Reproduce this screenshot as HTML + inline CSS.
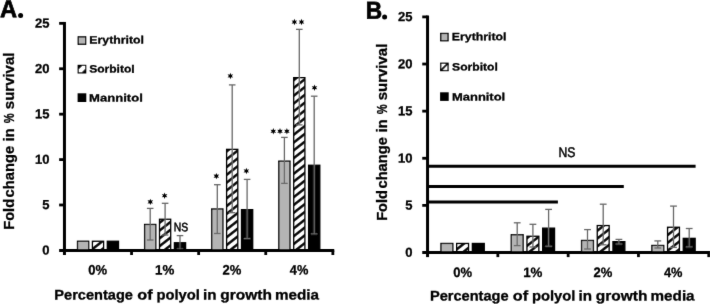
<!DOCTYPE html><html><head><meta charset="utf-8"><style>html,body{margin:0;padding:0;background:#fff;overflow:hidden}svg{display:block}</style></head><body><svg xmlns="http://www.w3.org/2000/svg" width="710" height="304" viewBox="0 0 710 304"><defs><filter id="soft" x="0" y="0" width="710" height="304" filterUnits="userSpaceOnUse"><feConvolveMatrix order="3" kernelMatrix="1 6 1 6 72 6 1 6 1" divisor="100" edgeMode="none"/></filter><pattern id="hA0" patternUnits="userSpaceOnUse" x="5.88" y="0" width="6.15" height="6.15" patternTransform="rotate(52)"><rect x="0.1" y="0" width="2.4" height="6.15" fill="#000"/></pattern><pattern id="hA1" patternUnits="userSpaceOnUse" x="1.85" y="0" width="6.15" height="6.15" patternTransform="rotate(52)"><rect x="0.1" y="0" width="2.4" height="6.15" fill="#000"/></pattern><pattern id="hA2" patternUnits="userSpaceOnUse" x="5.4" y="0" width="6.15" height="6.15" patternTransform="rotate(52)"><rect x="0.1" y="0" width="2.4" height="6.15" fill="#000"/></pattern><pattern id="hA3" patternUnits="userSpaceOnUse" x="2.8" y="0" width="6.15" height="6.15" patternTransform="rotate(52)"><rect x="0.1" y="0" width="2.4" height="6.15" fill="#000"/></pattern><pattern id="hB0" patternUnits="userSpaceOnUse" x="2.8" y="0" width="6.15" height="6.15" patternTransform="rotate(52)"><rect x="0.1" y="0" width="2.4" height="6.15" fill="#000"/></pattern><pattern id="hB1" patternUnits="userSpaceOnUse" x="0.3" y="0" width="6.15" height="6.15" patternTransform="rotate(52)"><rect x="0.1" y="0" width="2.4" height="6.15" fill="#000"/></pattern><pattern id="hB2" patternUnits="userSpaceOnUse" x="0.9" y="0" width="6.15" height="6.15" patternTransform="rotate(52)"><rect x="0.1" y="0" width="2.4" height="6.15" fill="#000"/></pattern><pattern id="hB3" patternUnits="userSpaceOnUse" x="4.53" y="0" width="6.15" height="6.15" patternTransform="rotate(52)"><rect x="0.1" y="0" width="2.4" height="6.15" fill="#000"/></pattern></defs><rect width="710" height="304" fill="#fff"/><g filter="url(#soft)"><g font-family="Liberation Sans, sans-serif" fill="#000"><rect x="77.5" y="241.25" width="11.2" height="9.15" fill="#b4b4b4" stroke="#000" stroke-width="1.3"/><rect x="92.4" y="241.25" width="11.2" height="9.15" fill="url(#hA0)" stroke="#000" stroke-width="1.3"/><rect x="107.3" y="241.25" width="11.2" height="9.15" fill="#000" stroke="#000" stroke-width="1.3"/><rect x="144.6" y="224.45" width="11.2" height="25.95" fill="#b4b4b4" stroke="#000" stroke-width="1.3"/><rect x="159.5" y="219.25" width="11.2" height="31.15" fill="url(#hA1)" stroke="#000" stroke-width="1.3"/><rect x="174.4" y="242.75" width="11.2" height="7.65" fill="#000" stroke="#000" stroke-width="1.3"/><line x1="150.2" y1="208.4" x2="150.2" y2="240" stroke="#686868" stroke-width="1.3"/><line x1="146.9" y1="208.4" x2="153.5" y2="208.4" stroke="#686868" stroke-width="1.3"/><line x1="146.9" y1="240" x2="153.5" y2="240" stroke="#686868" stroke-width="1.3"/><line x1="165.1" y1="203.3" x2="165.1" y2="235" stroke="#686868" stroke-width="1.3"/><line x1="161.8" y1="203.3" x2="168.4" y2="203.3" stroke="#686868" stroke-width="1.3"/><line x1="161.8" y1="235" x2="168.4" y2="235" stroke="#686868" stroke-width="1.3"/><line x1="180" y1="235.6" x2="180" y2="249" stroke="#686868" stroke-width="1.3"/><line x1="176.7" y1="235.6" x2="183.3" y2="235.6" stroke="#686868" stroke-width="1.3"/><line x1="176.7" y1="249" x2="183.3" y2="249" stroke="#686868" stroke-width="1.3"/><rect x="211.7" y="208.95" width="11.2" height="41.45" fill="#b4b4b4" stroke="#000" stroke-width="1.3"/><rect x="226.6" y="149.35" width="11.2" height="101.05" fill="url(#hA2)" stroke="#000" stroke-width="1.3"/><rect x="241.5" y="209.65" width="11.2" height="40.75" fill="#000" stroke="#000" stroke-width="1.3"/><line x1="217.3" y1="184.7" x2="217.3" y2="233.5" stroke="#686868" stroke-width="1.3"/><line x1="214" y1="184.7" x2="220.6" y2="184.7" stroke="#686868" stroke-width="1.3"/><line x1="214" y1="233.5" x2="220.6" y2="233.5" stroke="#686868" stroke-width="1.3"/><line x1="232.2" y1="84.9" x2="232.2" y2="212.7" stroke="#686868" stroke-width="1.3"/><line x1="228.9" y1="84.9" x2="235.5" y2="84.9" stroke="#686868" stroke-width="1.3"/><line x1="228.9" y1="212.7" x2="235.5" y2="212.7" stroke="#686868" stroke-width="1.3"/><line x1="247.1" y1="179.4" x2="247.1" y2="238.6" stroke="#686868" stroke-width="1.3"/><line x1="243.8" y1="179.4" x2="250.4" y2="179.4" stroke="#686868" stroke-width="1.3"/><line x1="243.8" y1="238.6" x2="250.4" y2="238.6" stroke="#686868" stroke-width="1.3"/><rect x="278.8" y="161.15" width="11.2" height="89.25" fill="#b4b4b4" stroke="#000" stroke-width="1.3"/><rect x="293.7" y="77.65" width="11.2" height="172.75" fill="url(#hA3)" stroke="#000" stroke-width="1.3"/><rect x="308.6" y="165.25" width="11.2" height="85.15" fill="#000" stroke="#000" stroke-width="1.3"/><line x1="284.4" y1="137.4" x2="284.4" y2="183.4" stroke="#686868" stroke-width="1.3"/><line x1="281.1" y1="137.4" x2="287.7" y2="137.4" stroke="#686868" stroke-width="1.3"/><line x1="281.1" y1="183.4" x2="287.7" y2="183.4" stroke="#686868" stroke-width="1.3"/><line x1="299.3" y1="29.35" x2="299.3" y2="124.9" stroke="#686868" stroke-width="1.3"/><line x1="296" y1="29.35" x2="302.6" y2="29.35" stroke="#686868" stroke-width="1.3"/><line x1="296" y1="124.9" x2="302.6" y2="124.9" stroke="#686868" stroke-width="1.3"/><line x1="314.2" y1="96.2" x2="314.2" y2="233.9" stroke="#686868" stroke-width="1.3"/><line x1="310.9" y1="96.2" x2="317.5" y2="96.2" stroke="#686868" stroke-width="1.3"/><line x1="310.9" y1="233.9" x2="317.5" y2="233.9" stroke="#686868" stroke-width="1.3"/><line x1="64.45" y1="21.95" x2="64.45" y2="255" stroke="#000" stroke-width="3"/><line x1="59.15" y1="250.4" x2="334.25" y2="250.4" stroke="#000" stroke-width="3"/><line x1="59.15" y1="204.99" x2="64.45" y2="204.99" stroke="#000" stroke-width="2.8"/><line x1="59.15" y1="159.58" x2="64.45" y2="159.58" stroke="#000" stroke-width="2.8"/><line x1="59.15" y1="114.17" x2="64.45" y2="114.17" stroke="#000" stroke-width="2.8"/><line x1="59.15" y1="68.76" x2="64.45" y2="68.76" stroke="#000" stroke-width="2.8"/><line x1="59.15" y1="23.35" x2="64.45" y2="23.35" stroke="#000" stroke-width="2.8"/><line x1="131.55" y1="250.4" x2="131.55" y2="255" stroke="#000" stroke-width="2.8"/><line x1="198.65" y1="250.4" x2="198.65" y2="255" stroke="#000" stroke-width="2.8"/><line x1="265.75" y1="250.4" x2="265.75" y2="255" stroke="#000" stroke-width="2.8"/><line x1="332.85" y1="250.4" x2="332.85" y2="255" stroke="#000" stroke-width="2.8"/><rect x="440.95" y="243.45" width="11.9" height="9.05" fill="#b4b4b4" stroke="#000" stroke-width="1.3"/><rect x="456.65" y="243.45" width="11.9" height="9.05" fill="url(#hB0)" stroke="#000" stroke-width="1.3"/><rect x="472.35" y="243.45" width="11.9" height="9.05" fill="#000" stroke="#000" stroke-width="1.3"/><rect x="511.25" y="234.75" width="11.9" height="17.75" fill="#b4b4b4" stroke="#000" stroke-width="1.3"/><rect x="526.95" y="236.25" width="11.9" height="16.25" fill="url(#hB1)" stroke="#000" stroke-width="1.3"/><rect x="542.65" y="228.15" width="11.9" height="24.35" fill="#000" stroke="#000" stroke-width="1.3"/><line x1="517.2" y1="222.8" x2="517.2" y2="245.6" stroke="#686868" stroke-width="1.3"/><line x1="513.8" y1="222.8" x2="520.6" y2="222.8" stroke="#686868" stroke-width="1.3"/><line x1="513.8" y1="245.6" x2="520.6" y2="245.6" stroke="#686868" stroke-width="1.3"/><line x1="532.9" y1="224.3" x2="532.9" y2="247" stroke="#686868" stroke-width="1.3"/><line x1="529.5" y1="224.3" x2="536.3" y2="224.3" stroke="#686868" stroke-width="1.3"/><line x1="529.5" y1="247" x2="536.3" y2="247" stroke="#686868" stroke-width="1.3"/><line x1="548.6" y1="209.4" x2="548.6" y2="246.2" stroke="#686868" stroke-width="1.3"/><line x1="545.2" y1="209.4" x2="552" y2="209.4" stroke="#686868" stroke-width="1.3"/><line x1="545.2" y1="246.2" x2="552" y2="246.2" stroke="#686868" stroke-width="1.3"/><rect x="581.55" y="240.45" width="11.9" height="12.05" fill="#b4b4b4" stroke="#000" stroke-width="1.3"/><rect x="597.25" y="225.55" width="11.9" height="26.95" fill="url(#hB2)" stroke="#000" stroke-width="1.3"/><rect x="612.95" y="241.65" width="11.9" height="10.85" fill="#000" stroke="#000" stroke-width="1.3"/><line x1="587.5" y1="229.6" x2="587.5" y2="249" stroke="#686868" stroke-width="1.3"/><line x1="584.1" y1="229.6" x2="590.9" y2="229.6" stroke="#686868" stroke-width="1.3"/><line x1="584.1" y1="249" x2="590.9" y2="249" stroke="#686868" stroke-width="1.3"/><line x1="603.2" y1="204.2" x2="603.2" y2="244.8" stroke="#686868" stroke-width="1.3"/><line x1="599.8" y1="204.2" x2="606.6" y2="204.2" stroke="#686868" stroke-width="1.3"/><line x1="599.8" y1="244.8" x2="606.6" y2="244.8" stroke="#686868" stroke-width="1.3"/><line x1="618.9" y1="239.4" x2="618.9" y2="244" stroke="#686868" stroke-width="1.3"/><line x1="615.5" y1="239.4" x2="622.3" y2="239.4" stroke="#686868" stroke-width="1.3"/><line x1="615.5" y1="244" x2="622.3" y2="244" stroke="#686868" stroke-width="1.3"/><rect x="651.85" y="245.45" width="11.9" height="7.05" fill="#b4b4b4" stroke="#000" stroke-width="1.3"/><rect x="667.55" y="227.25" width="11.9" height="25.25" fill="url(#hB3)" stroke="#000" stroke-width="1.3"/><rect x="683.25" y="238.35" width="11.9" height="14.15" fill="#000" stroke="#000" stroke-width="1.3"/><line x1="657.8" y1="240.9" x2="657.8" y2="248" stroke="#686868" stroke-width="1.3"/><line x1="654.4" y1="240.9" x2="661.2" y2="240.9" stroke="#686868" stroke-width="1.3"/><line x1="654.4" y1="248" x2="661.2" y2="248" stroke="#686868" stroke-width="1.3"/><line x1="673.5" y1="206.1" x2="673.5" y2="247.4" stroke="#686868" stroke-width="1.3"/><line x1="670.1" y1="206.1" x2="676.9" y2="206.1" stroke="#686868" stroke-width="1.3"/><line x1="670.1" y1="247.4" x2="676.9" y2="247.4" stroke="#686868" stroke-width="1.3"/><line x1="689.2" y1="228.5" x2="689.2" y2="246.9" stroke="#686868" stroke-width="1.3"/><line x1="685.8" y1="228.5" x2="692.6" y2="228.5" stroke="#686868" stroke-width="1.3"/><line x1="685.8" y1="246.9" x2="692.6" y2="246.9" stroke="#686868" stroke-width="1.3"/><line x1="427.55" y1="15.5" x2="427.55" y2="257.1" stroke="#000" stroke-width="3"/><line x1="422.25" y1="252.5" x2="710.15" y2="252.5" stroke="#000" stroke-width="3"/><line x1="422.25" y1="205.38" x2="427.55" y2="205.38" stroke="#000" stroke-width="2.8"/><line x1="422.25" y1="158.26" x2="427.55" y2="158.26" stroke="#000" stroke-width="2.8"/><line x1="422.25" y1="111.14" x2="427.55" y2="111.14" stroke="#000" stroke-width="2.8"/><line x1="422.25" y1="64.02" x2="427.55" y2="64.02" stroke="#000" stroke-width="2.8"/><line x1="422.25" y1="16.9" x2="427.55" y2="16.9" stroke="#000" stroke-width="2.8"/><line x1="497.85" y1="252.5" x2="497.85" y2="257.1" stroke="#000" stroke-width="2.8"/><line x1="568.15" y1="252.5" x2="568.15" y2="257.1" stroke="#000" stroke-width="2.8"/><line x1="638.45" y1="252.5" x2="638.45" y2="257.1" stroke="#000" stroke-width="2.8"/><line x1="708.75" y1="252.5" x2="708.75" y2="257.1" stroke="#000" stroke-width="2.8"/><line x1="427.55" y1="166.3" x2="695.6" y2="166.3" stroke="#000" stroke-width="3"/><line x1="427.55" y1="186.5" x2="623.8" y2="186.5" stroke="#000" stroke-width="3"/><line x1="427.55" y1="202.1" x2="557.9" y2="202.1" stroke="#000" stroke-width="3"/><text transform="rotate(0.05 49.4 250.4)" x="49.4" y="254.55" font-size="13" font-weight="bold" text-anchor="end" stroke="#000" stroke-width="0.3">0</text><text transform="rotate(0.05 49.4 204.99)" x="49.4" y="209.14" font-size="13" font-weight="bold" text-anchor="end" stroke="#000" stroke-width="0.3">5</text><text transform="rotate(0.05 49.4 159.58)" x="49.4" y="163.73" font-size="13" font-weight="bold" text-anchor="end" stroke="#000" stroke-width="0.3">10</text><text transform="rotate(0.05 49.4 114.17)" x="49.4" y="118.32" font-size="13" font-weight="bold" text-anchor="end" stroke="#000" stroke-width="0.3">15</text><text transform="rotate(0.05 49.4 68.76)" x="49.4" y="72.91" font-size="13" font-weight="bold" text-anchor="end" stroke="#000" stroke-width="0.3">20</text><text transform="rotate(0.05 49.4 23.35)" x="49.4" y="27.5" font-size="13" font-weight="bold" text-anchor="end" stroke="#000" stroke-width="0.3">25</text><text transform="rotate(0.05 412.6 252.5)" x="412.6" y="256.65" font-size="13" font-weight="bold" text-anchor="end" stroke="#000" stroke-width="0.3">0</text><text transform="rotate(0.05 412.6 205.38)" x="412.6" y="209.53" font-size="13" font-weight="bold" text-anchor="end" stroke="#000" stroke-width="0.3">5</text><text transform="rotate(0.05 412.6 158.26)" x="412.6" y="162.41" font-size="13" font-weight="bold" text-anchor="end" stroke="#000" stroke-width="0.3">10</text><text transform="rotate(0.05 412.6 111.14)" x="412.6" y="115.29" font-size="13" font-weight="bold" text-anchor="end" stroke="#000" stroke-width="0.3">15</text><text transform="rotate(0.05 412.6 64.02)" x="412.6" y="68.17" font-size="13" font-weight="bold" text-anchor="end" stroke="#000" stroke-width="0.3">20</text><text transform="rotate(0.05 412.6 16.9)" x="412.6" y="21.05" font-size="13" font-weight="bold" text-anchor="end" stroke="#000" stroke-width="0.3">25</text><text transform="rotate(0.05 0.07 17.15)" x="0.07" y="17.15" font-size="24.5" font-weight="bold" textLength="17.05" lengthAdjust="spacingAndGlyphs" stroke="#000" stroke-width="0.7">A</text><text transform="rotate(0.05 365.77 18.75)" x="365.77" y="18.75" font-size="24.5" font-weight="bold" textLength="16.4" lengthAdjust="spacingAndGlyphs" stroke="#000" stroke-width="0.7">B</text><text transform="rotate(0.05 54.31 299.5)" x="54.31" y="299.5" font-size="14.0" font-weight="bold" textLength="78.64" lengthAdjust="spacingAndGlyphs" stroke="#000" stroke-width="0.3">Percentage</text><text transform="rotate(0.05 137.25 299.5)" x="137.25" y="299.5" font-size="14.0" font-weight="bold" textLength="15.31" lengthAdjust="spacingAndGlyphs" stroke="#000" stroke-width="0.3">of</text><text transform="rotate(0.05 156.4 299.5)" x="156.4" y="299.5" font-size="14.0" font-weight="bold" textLength="43.42" lengthAdjust="spacingAndGlyphs" stroke="#000" stroke-width="0.3">polyol</text><text transform="rotate(0.05 202.97 299.5)" x="202.97" y="299.5" font-size="14.0" font-weight="bold" textLength="13.5" lengthAdjust="spacingAndGlyphs" stroke="#000" stroke-width="0.3">in</text><text transform="rotate(0.05 220.29 299.5)" x="220.29" y="299.5" font-size="14.0" font-weight="bold" textLength="51.61" lengthAdjust="spacingAndGlyphs" stroke="#000" stroke-width="0.3">growth</text><text transform="rotate(0.05 274.97 299.5)" x="274.97" y="299.5" font-size="14.0" font-weight="bold" textLength="44.04" lengthAdjust="spacingAndGlyphs" stroke="#000" stroke-width="0.3">media</text><text transform="rotate(0.05 429.91 300.5)" x="429.91" y="300.5" font-size="14.0" font-weight="bold" textLength="78.64" lengthAdjust="spacingAndGlyphs" stroke="#000" stroke-width="0.3">Percentage</text><text transform="rotate(0.05 512.85 300.5)" x="512.85" y="300.5" font-size="14.0" font-weight="bold" textLength="15.31" lengthAdjust="spacingAndGlyphs" stroke="#000" stroke-width="0.3">of</text><text transform="rotate(0.05 532 300.5)" x="532" y="300.5" font-size="14.0" font-weight="bold" textLength="43.42" lengthAdjust="spacingAndGlyphs" stroke="#000" stroke-width="0.3">polyol</text><text transform="rotate(0.05 578.57 300.5)" x="578.57" y="300.5" font-size="14.0" font-weight="bold" textLength="13.5" lengthAdjust="spacingAndGlyphs" stroke="#000" stroke-width="0.3">in</text><text transform="rotate(0.05 595.89 300.5)" x="595.89" y="300.5" font-size="14.0" font-weight="bold" textLength="51.61" lengthAdjust="spacingAndGlyphs" stroke="#000" stroke-width="0.3">growth</text><text transform="rotate(0.05 650.57 300.5)" x="650.57" y="300.5" font-size="14.0" font-weight="bold" textLength="44.04" lengthAdjust="spacingAndGlyphs" stroke="#000" stroke-width="0.3">media</text><text transform="translate(13.9,0) rotate(-90)" x="-229.74" y="0" font-size="14.8" font-weight="bold" textLength="30.81" lengthAdjust="spacingAndGlyphs" stroke="#000" stroke-width="0.3">Fold</text><text transform="translate(13.9,0) rotate(-90)" x="-197.45" y="0" font-size="14.8" font-weight="bold" textLength="51.51" lengthAdjust="spacingAndGlyphs" stroke="#000" stroke-width="0.3">change</text><text transform="translate(13.9,0) rotate(-90)" x="-141.22" y="0" font-size="14.8" font-weight="bold" textLength="12.8" lengthAdjust="spacingAndGlyphs" stroke="#000" stroke-width="0.3">in</text><text transform="translate(13.9,0) rotate(-90)" x="-123.15" y="0" font-size="14.8" font-weight="bold" textLength="9.87" lengthAdjust="spacingAndGlyphs" stroke="#000" stroke-width="0.3">%</text><text transform="translate(13.9,0) rotate(-90)" x="-109.16" y="0" font-size="14.8" font-weight="bold" textLength="56.57" lengthAdjust="spacingAndGlyphs" stroke="#000" stroke-width="0.3">survival</text><text transform="translate(386.6,0) rotate(-90)" x="-220.84" y="0" font-size="14.8" font-weight="bold" textLength="30.81" lengthAdjust="spacingAndGlyphs" stroke="#000" stroke-width="0.3">Fold</text><text transform="translate(386.6,0) rotate(-90)" x="-188.55" y="0" font-size="14.8" font-weight="bold" textLength="51.51" lengthAdjust="spacingAndGlyphs" stroke="#000" stroke-width="0.3">change</text><text transform="translate(386.6,0) rotate(-90)" x="-132.32" y="0" font-size="14.8" font-weight="bold" textLength="12.8" lengthAdjust="spacingAndGlyphs" stroke="#000" stroke-width="0.3">in</text><text transform="translate(386.6,0) rotate(-90)" x="-114.25" y="0" font-size="14.8" font-weight="bold" textLength="9.87" lengthAdjust="spacingAndGlyphs" stroke="#000" stroke-width="0.3">%</text><text transform="translate(386.6,0) rotate(-90)" x="-100.26" y="0" font-size="14.8" font-weight="bold" textLength="56.57" lengthAdjust="spacingAndGlyphs" stroke="#000" stroke-width="0.3">survival</text><text transform="rotate(0.05 89.35 43.4)" x="89.35" y="43.4" font-size="10.7" font-weight="bold" textLength="54.58" lengthAdjust="spacingAndGlyphs" stroke="#000" stroke-width="0.3">Erythritol</text><text transform="rotate(0.05 89.21 72.6)" x="89.21" y="72.6" font-size="10.7" font-weight="bold" textLength="45.45" lengthAdjust="spacingAndGlyphs" stroke="#000" stroke-width="0.3">Sorbitol</text><text transform="rotate(0.05 89.1 101.5)" x="89.1" y="101.5" font-size="10.7" font-weight="bold" textLength="53.71" lengthAdjust="spacingAndGlyphs" stroke="#000" stroke-width="0.3">Mannitol</text><text transform="rotate(0.05 451.85 40.3)" x="451.85" y="40.3" font-size="10.7" font-weight="bold" textLength="54.58" lengthAdjust="spacingAndGlyphs" stroke="#000" stroke-width="0.3">Erythritol</text><text transform="rotate(0.05 452.11 70.5)" x="452.11" y="70.5" font-size="10.7" font-weight="bold" textLength="45.65" lengthAdjust="spacingAndGlyphs" stroke="#000" stroke-width="0.3">Sorbitol</text><text transform="rotate(0.05 452 100.4)" x="452" y="100.4" font-size="10.7" font-weight="bold" textLength="53.19" lengthAdjust="spacingAndGlyphs" stroke="#000" stroke-width="0.3">Mannitol</text><text transform="rotate(0.05 173.7 231.3)" x="173.7" y="231.3" font-size="12.2" font-weight="normal" textLength="14.42" lengthAdjust="spacingAndGlyphs" stroke="#000" stroke-width="0.5">NS</text><text transform="rotate(0.05 558.49 157)" x="558.49" y="157" font-size="14.0" font-weight="normal" textLength="16.92" lengthAdjust="spacingAndGlyphs" stroke="#000" stroke-width="0.5">NS</text><text transform="rotate(0.05 88.17 274.6)" x="88.17" y="274.6" font-size="13.6" font-weight="bold" textLength="18.82" lengthAdjust="spacingAndGlyphs" stroke="#000" stroke-width="0.3">0%</text><text transform="rotate(0.05 155.02 274.6)" x="155.02" y="274.6" font-size="13.6" font-weight="bold" textLength="19.23" lengthAdjust="spacingAndGlyphs" stroke="#000" stroke-width="0.3">1%</text><text transform="rotate(0.05 222.42 274.6)" x="222.42" y="274.6" font-size="13.6" font-weight="bold" textLength="18.82" lengthAdjust="spacingAndGlyphs" stroke="#000" stroke-width="0.3">2%</text><text transform="rotate(0.05 289.86 274.6)" x="289.86" y="274.6" font-size="13.6" font-weight="bold" textLength="18.52" lengthAdjust="spacingAndGlyphs" stroke="#000" stroke-width="0.3">4%</text><text transform="rotate(0.05 453.17 277.1)" x="453.17" y="277.1" font-size="13.6" font-weight="bold" textLength="18.82" lengthAdjust="spacingAndGlyphs" stroke="#000" stroke-width="0.3">0%</text><text transform="rotate(0.05 523.22 277.1)" x="523.22" y="277.1" font-size="13.6" font-weight="bold" textLength="19.23" lengthAdjust="spacingAndGlyphs" stroke="#000" stroke-width="0.3">1%</text><text transform="rotate(0.05 593.57 277.1)" x="593.57" y="277.1" font-size="13.6" font-weight="bold" textLength="18.82" lengthAdjust="spacingAndGlyphs" stroke="#000" stroke-width="0.3">2%</text><text transform="rotate(0.05 664.01 277.1)" x="664.01" y="277.1" font-size="13.6" font-weight="bold" textLength="18.52" lengthAdjust="spacingAndGlyphs" stroke="#000" stroke-width="0.3">4%</text><polygon points="150.3,198.7 149.55,200.6 147.53,200.3 148.8,201.9 147.53,203.5 149.55,203.2 150.3,205.1 151.05,203.2 153.07,203.5 151.8,201.9 153.07,200.3 151.05,200.6" fill="#000"/><polygon points="164.6,192.5 163.85,194.4 161.83,194.1 163.1,195.7 161.83,197.3 163.85,197 164.6,198.9 165.35,197 167.37,197.3 166.1,195.7 167.37,194.1 165.35,194.4" fill="#000"/><polygon points="216.35,172.95 215.6,174.85 213.58,174.55 214.85,176.15 213.58,177.75 215.6,177.45 216.35,179.35 217.1,177.45 219.12,177.75 217.85,176.15 219.12,174.55 217.1,174.85" fill="#000"/><polygon points="230.35,72.75 229.6,74.65 227.58,74.35 228.85,75.95 227.58,77.55 229.6,77.25 230.35,79.15 231.1,77.25 233.12,77.55 231.85,75.95 233.12,74.35 231.1,74.65" fill="#000"/><polygon points="246.35,167.75 245.6,169.65 243.58,169.35 244.85,170.95 243.58,172.55 245.6,172.25 246.35,174.15 247.1,172.25 249.12,172.55 247.85,170.95 249.12,169.35 247.1,169.65" fill="#000"/><polygon points="273.3,128.1 272.55,130 270.53,129.7 271.8,131.3 270.53,132.9 272.55,132.6 273.3,134.5 274.05,132.6 276.07,132.9 274.8,131.3 276.07,129.7 274.05,130" fill="#000"/><polygon points="280,128.1 279.25,130 277.23,129.7 278.5,131.3 277.23,132.9 279.25,132.6 280,134.5 280.75,132.6 282.77,132.9 281.5,131.3 282.77,129.7 280.75,130" fill="#000"/><polygon points="286.9,128.1 286.15,130 284.13,129.7 285.4,131.3 284.13,132.9 286.15,132.6 286.9,134.5 287.65,132.6 289.67,132.9 288.4,131.3 289.67,129.7 287.65,130" fill="#000"/><polygon points="294.4,18.85 293.65,20.75 291.63,20.45 292.9,22.05 291.63,23.65 293.65,23.35 294.4,25.25 295.15,23.35 297.17,23.65 295.9,22.05 297.17,20.45 295.15,20.75" fill="#000"/><polygon points="301.5,18.85 300.75,20.75 298.73,20.45 300,22.05 298.73,23.65 300.75,23.35 301.5,25.25 302.25,23.35 304.27,23.65 303,22.05 304.27,20.45 302.25,20.75" fill="#000"/><polygon points="314.5,84.55 313.75,86.45 311.73,86.15 313,87.75 311.73,89.35 313.75,89.05 314.5,90.95 315.25,89.05 317.27,89.35 316,87.75 317.27,86.15 315.25,86.45" fill="#000"/><rect x="78.25" y="36.85" width="7.4" height="7.4" fill="#b4b4b4" stroke="#000" stroke-width="1.3"/><rect x="77.6" y="64.8" width="8.7" height="8.7" fill="#000"/><path d="M78.8 69.3 L82.1 66 L85.1 66 L85.1 69 L81.8 72.3 L78.8 72.3 Z" fill="#fff"/><rect x="77.6" y="93.3" width="8.7" height="8.7" fill="#000"/><rect x="440.75" y="33.45" width="7.3" height="7.3" fill="#b4b4b4" stroke="#000" stroke-width="1.3"/><rect x="440.75" y="63.25" width="7.3" height="7.3" fill="#fff" stroke="#000" stroke-width="1.3"/><line x1="441.1" y1="70.2" x2="447.7" y2="63.6" stroke="#000" stroke-width="2"/><rect x="440.1" y="92.3" width="8.6" height="8.6" fill="#000"/><circle cx="20.6" cy="15.4" r="2.5"/><circle cx="384.6" cy="17.0" r="2.5"/></g></g></svg></body></html>
